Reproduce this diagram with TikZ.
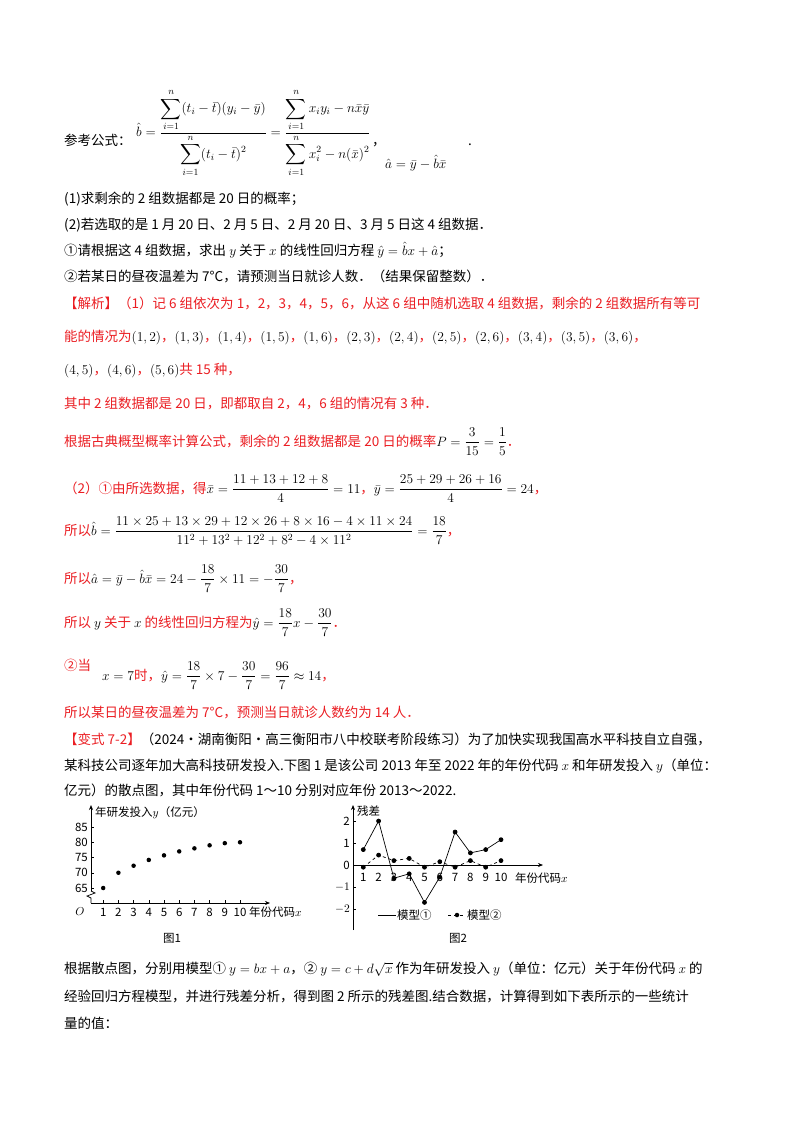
\RequirePackage{fix-cm}
\documentclass[tikz,border=0pt]{standalone}
\usepackage{amsmath}
\usepackage{fontspec}
\setmainfont{Noto Sans CJK SC}
\usetikzlibrary{arrows.meta}
\definecolor{jred}{RGB}{235,30,35}
\newcommand{\fs}{\fontsize{13.5}{16}\selectfont}
\newcommand{\fsm}{\fontsize{11.5}{13}\selectfont}
\tikzset{tx/.style={anchor=base west,inner sep=0pt,font=\fs},
 rt/.style={tx,text=jred},
 ax/.style={line width=0.7pt,-{Stealth[length=5pt,width=4pt]}},
 lab/.style={inner sep=0pt,font=\fsm},
 dot/.style={circle,fill=black,inner sep=0pt,minimum size=4.5pt}}
\begin{document}
\begin{tikzpicture}[x=1pt,y=-1pt]
\useasboundingbox[fill=white] (0,0) rectangle (800,1132);
% formula line
\node[tx] (f0) at (64,145) {参考公式：};
\node[anchor=west,inner sep=0pt,font=\fs] (f1) at (136,133) {$\hat b=\dfrac{\displaystyle\sum\limits_{i=1}^{n}(t_i-\bar t)(y_i-\bar y)}{\displaystyle\sum\limits_{i=1}^{n}(t_i-\bar t)^2}=\dfrac{\displaystyle\sum\limits_{i=1}^{n}x_iy_i-n\bar x\bar y}{\displaystyle\sum\limits_{i=1}^{n}x_i^2-n(\bar x)^2}$};
\node[tx] (f2) at (372,145) {，};
\node[tx] (f3) at (385,168) {$\hat a=\bar y-\hat b\bar x$};
\node[tx] (f4) at (468,145) {.};
\node[tx] (l1) at (64,203) {(1)求剩余的 2 组数据都是 20 日的概率；};
\node[tx] (l2) at (64,229) {(2)若选取的是 1 月 20 日、2 月 5 日、2 月 20 日、3 月 5 日这 4 组数据．};
\node[tx] (l3) at (64,255) {①请根据这 4 组数据，求出 $y$ 关于 $x$ 的线性回归方程 $\hat y=\hat bx+\hat a$；};
\node[tx] (l4) at (64,281) {②若某日的昼夜温差为 7°C，请预测当日就诊人数．（结果保留整数）．};
% solution
\node[rt] (s1) at (64,308) {【解析】（1）记 6 组依次为 1，2，3，4，5，6，从这 6 组中随机选取 4 组数据，剩余的 2 组数据所有等可};
\node[rt] (s2) at (64,341) {能的情况为\textcolor{black}{$(1,2)$}，\textcolor{black}{$(1,3)$}，\textcolor{black}{$(1,4)$}，\textcolor{black}{$(1,5)$}，\textcolor{black}{$(1,6)$}，\textcolor{black}{$(2,3)$}，\textcolor{black}{$(2,4)$}，\textcolor{black}{$(2,5)$}，\textcolor{black}{$(2,6)$}，\textcolor{black}{$(3,4)$}，\textcolor{black}{$(3,5)$}，\textcolor{black}{$(3,6)$}，};
\node[rt] (s3) at (64,374) {\textcolor{black}{$(4,5)$}，\textcolor{black}{$(4,6)$}，\textcolor{black}{$(5,6)$}共 15 种，};
\node[rt] (s4) at (64,408) {其中 2 组数据都是 20 日，即都取自 2，4，6 组的情况有 3 种．};
\node[rt] (s5) at (64,446) {根据古典概型概率计算公式，剩余的 2 组数据都是 20 日的概率\textcolor{black}{$P=\dfrac{3}{15}=\dfrac{1}{5}$}．};
\node[rt] (s6) at (64,493) {（2）①由所选数据，得\textcolor{black}{$\bar x=\dfrac{11+13+12+8}{4}=11$}，\textcolor{black}{$\bar y=\dfrac{25+29+26+16}{4}=24$}，};
\node[rt] (s7) at (64,535) {所以\textcolor{black}{$\hat b=\dfrac{11\times25+13\times29+12\times26+8\times16-4\times11\times24}{11^2+13^2+12^2+8^2-4\times11^2}=\dfrac{18}{7}$}，};
\node[rt] (s8) at (64,583) {所以\textcolor{black}{$\hat a=\bar y-\hat b\bar x=24-\dfrac{18}{7}\times11=-\dfrac{30}{7}$}，};
\node[rt] (s9) at (64,627) {所以 \textcolor{black}{$y$} 关于 \textcolor{black}{$x$} 的线性回归方程为\textcolor{black}{$\hat y=\dfrac{18}{7}x-\dfrac{30}{7}$}．};
\node[rt] (s10) at (64,670) {②当};
\node[rt] (s10b) at (102,680) {\textcolor{black}{$x=7$}时，\textcolor{black}{$\hat y=\dfrac{18}{7}\times7-\dfrac{30}{7}=\dfrac{96}{7}\approx14$}，};
\node[rt] (s11) at (64,717) {所以某日的昼夜温差为 7°C，预测当日就诊人数约为 14 人．};
% variant
\node[tx] (v1) at (64,744) {\textcolor{jred}{【变式 7-2】}（2024·湖南衡阳·高三衡阳市八中校联考阶段练习）为了加快实现我国高水平科技自立自强，};
\node[tx] (v2) at (64,770) {某科技公司逐年加大高科技研发投入.下图 1 是该公司 2013 年至 2022 年的年份代码 $x$ 和年研发投入 $y$（单位：};
\node[tx] (v3) at (64,795) {亿元）的散点图，其中年份代码 1～10 分别对应年份 2013～2022.};
% chart 1
\coordinate (o1) at (91,903);
\coordinate (yt1) at (91,805);
\coordinate (xt1) at (270,903);
\draw[ax] (91,891) -- (yt1);
\draw[line width=0.7pt] (o1) -- (91,898) -- (87,896) -- (95,893) -- (91,891);
\draw[ax] (o1) -- (xt1);
\node[lab,anchor=west] (yl1) at (95,813) {年研发投入$y$（亿元）};
\node[lab,anchor=west] (xl1) at (249,912) {年份代码$x$};
\node[lab] (O1) at (80,912) {$O$};
\foreach \v in {65,70,75,80,85}{
  \node[lab,anchor=east] (yv\v) at (88,{888-3.05*(\v-65)}) {\v};
  \draw (91,{888-3.05*(\v-65)}) -- (94,{888-3.05*(\v-65)});}
\foreach \i in {1,...,10}{
  \node[lab] (xv\i) at ({88+15.2*\i},912) {\i};
  \draw ({88+15.2*\i},903) -- ({88+15.2*\i},900);}
\foreach \i/\v in {1/65,2/70,3/72.3,4/74.2,5/75.7,6/77,7/78,8/79,9/79.7,10/80}
  \node[dot] (p\i) at ({88+15.2*\i},{888-3.05*(\v-65)}) {};
\node[lab] (cap1) at (172,938) {图1};
% chart 2
\draw[ax] (353,930) -- (353,805);
\draw[ax] (353,865) -- (543,865);
\node[lab,anchor=west] (yl2) at (357,811) {残差};
\foreach \v/\t in {2/2,1/1,0/0,-1/$-1$,-2/$-2$}{
  \node[lab,anchor=east] (rv\v) at (350,{865-22*\v}) {\t};
  \draw (353,{865-22*\v}) -- (356,{865-22*\v});}
\foreach \i in {1,...,10}
  \node[lab] (tv\i) at ({348+15.3*\i},877) {\i};
\node[lab,anchor=west] (xl2) at (515,878) {年份代码$x$};
\draw[line width=0.7pt] plot[mark=*,mark size=2pt] coordinates {
 (363.3,849.6) (378.6,821) (393.9,878.2) (409.2,873.8) (424.5,902.4)
 (439.8,877.1) (455.1,832) (470.4,852.9) (485.7,849.6) (501,839.7)};
\draw[line width=0.7pt,dashed] plot[mark=*,mark size=2pt,mark options={solid}] coordinates {
 (363.3,867.2) (378.6,855.1) (393.9,860.6) (409.2,858.4) (424.5,867.2)
 (439.8,861.7) (455.1,867.2) (470.4,860.6) (485.7,867.2) (501,860.6)};
\draw[line width=0.7pt] (378,915) -- (396,915);
\node[lab,anchor=west] (lg1) at (397,915) {模型①};
\draw[line width=0.7pt,dashed] (448,915) -- (466,915);
\node[dot] (lgd) at (457,915) {};
\node[lab,anchor=west] (lg2) at (467,915) {模型②};
\node[lab] (cap2) at (458,938) {图2};
% bottom text
\node[tx] (b1) at (64,973) {根据散点图，分别用模型① $y=bx+a$，② $y=c+d\sqrt{x}$ 作为年研发投入 $y$（单位：亿元）关于年份代码 $x$ 的};
\node[tx] (b2) at (64,1001) {经验回归方程模型，并进行残差分析，得到图 2 所示的残差图.结合数据，计算得到如下表所示的一些统计};
\node[tx] (b3) at (64,1028) {量的值：};
\end{tikzpicture}
\end{document}
